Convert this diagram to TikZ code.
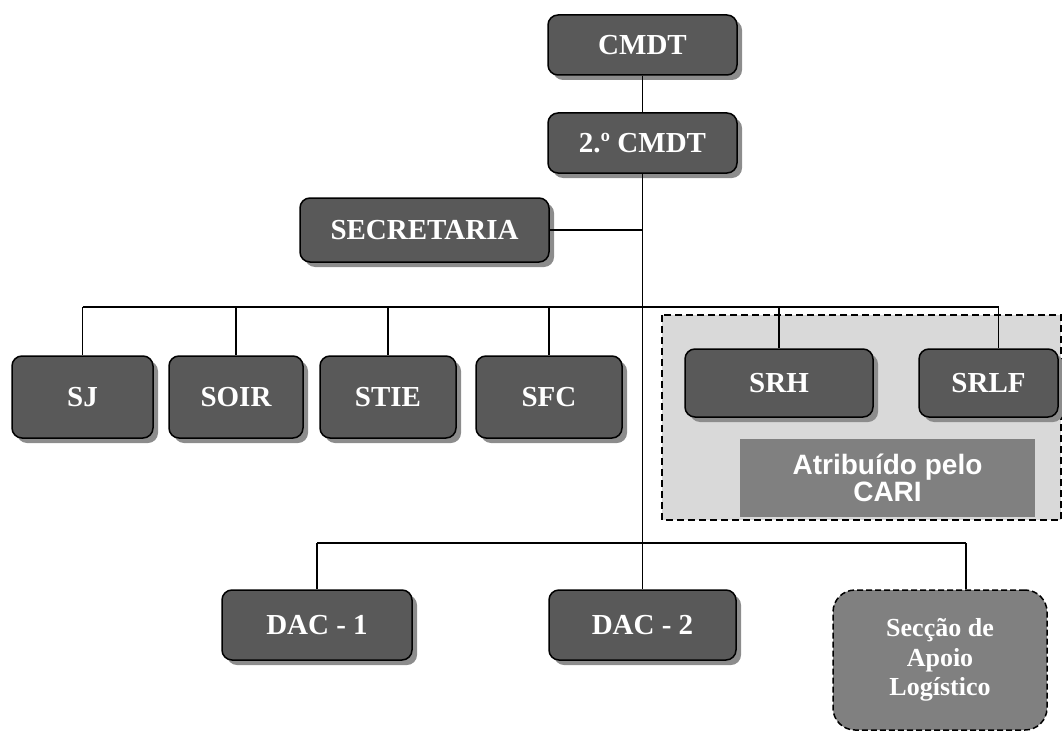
\documentclass[tikz,border=0pt]{standalone}
\usepackage{fontspec}
\setmainfont{Liberation Serif}
\newfontfamily\arialfont{Liberation Sans}
\usetikzlibrary{shadows}

\begin{document}
\begin{tikzpicture}[x=1pt, y=-1pt,
  box/.style={draw=black, line width=1.5pt, fill=black!65, rounded corners=10pt,
    text=white, font=\fontsize{29}{32}\selectfont\bfseries, inner sep=0pt,
    drop shadow={shadow xshift=5pt, shadow yshift=-5pt, fill=black!45, opacity=1}},
  conn/.style={line width=1.3pt}]
  \useasboundingbox (0,0) rectangle (1062,733);

  % CARI area
  \fill[black!15] (662,315) rectangle (1061,520);
  \draw[line width=1.5pt, dash pattern=on 7pt off 4pt] (662,315) rectangle (1061,520);

  % Command
  \node[box, minimum width=189pt, minimum height=60pt] (cmdt) at (642.5,45) {CMDT};
  \node[box, minimum width=189pt, minimum height=60pt] (cmdt2) at (642.5,143) {2.º CMDT};
  \node[box, minimum width=249pt, minimum height=64pt] (secr) at (424.5,230) {SECRETARIA};

  % Services
  \node[box, minimum width=141pt, minimum height=82pt] (sj) at (82.5,397) {SJ};
  \node[box, minimum width=134pt, minimum height=82pt] (soir) at (236,397) {SOIR};
  \node[box, minimum width=136pt, minimum height=82pt] (stie) at (388,397) {STIE};
  \node[box, minimum width=146pt, minimum height=82pt] (sfc) at (549,397) {SFC};
  \node[box, minimum width=188pt, minimum height=68pt] (srh) at (779,383) {SRH};
  \node[box, minimum width=139pt, minimum height=68pt] (srlf) at (988.5,383) {SRLF};
  \node[fill=black!50, text=white, minimum width=295pt, minimum height=78pt, align=center,
    font=\arialfont\fontsize{28}{27}\selectfont\bfseries] (cari) at (887.5,478) {Atribuído pelo\\CARI};

  % Units
  \node[box, minimum width=190pt, minimum height=70pt] (dac1) at (317,625) {DAC - 1};
  \node[box, minimum width=187pt, minimum height=70pt] (dac2) at (642.5,625) {DAC - 2};
  \node[draw=black, line width=1.5pt, dash pattern=on 6pt off 3pt, fill=black!50,
    rounded corners=22pt, text=white, align=center, inner sep=0pt,
    font=\fontsize{26}{29.5}\selectfont\bfseries,
    minimum width=214pt, minimum height=140pt] (apoio) at (940,660) {Secção de\\Apoio\\Logístico};

  % Connectors
  \coordinate (bus) at (0,307);
  \coordinate (bus2) at (0,543);
  \coordinate (srlftop) at ([xshift=10pt]srlf.north);
  \coordinate (apoiotop) at ([xshift=26pt]apoio.north);
  \draw[conn] (cmdt.south) -- (cmdt2.north);
  \draw[conn] (cmdt2.south) -- (dac2.north);
  \draw[conn] (secr.east) -- (secr.east -| cmdt2.south);
  \draw[conn] (sj.north |- bus) -- (srlftop |- bus);
  \foreach \n in {sj,soir,stie,sfc,srh,srlftop}
    \draw[conn] (\n.north |- bus) -- (\n.north);
  \draw[conn] (dac1.north |- bus2) -- (apoiotop |- bus2);
  \draw[conn] (dac1.north |- bus2) -- (dac1.north);
  \draw[conn] (apoiotop |- bus2) -- (apoiotop);
\end{tikzpicture}
\end{document}
